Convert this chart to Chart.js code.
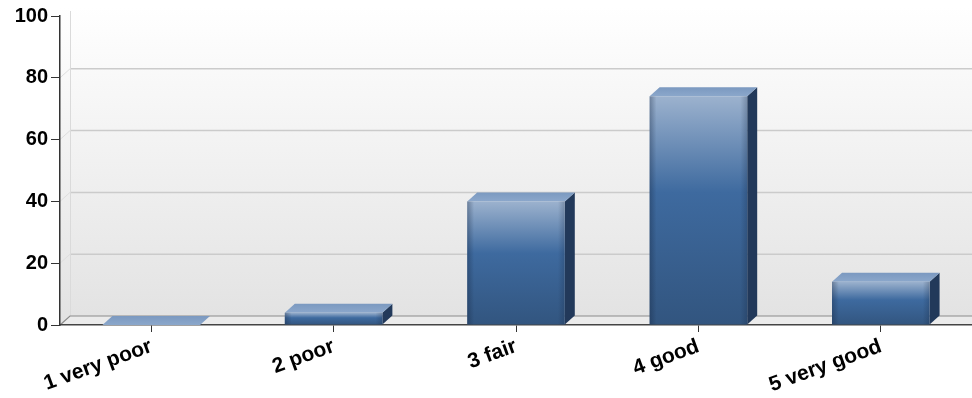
<!DOCTYPE html>
<html>
<head>
<meta charset="utf-8">
<script src="https://cdn.jsdelivr.net/npm/chart.js@4/dist/chart.umd.min.js"></script>
<style>
  html, body { margin: 0; padding: 0; background: #fff; }
  #wrap { width: 972px; height: 398px; }
</style>
</head>
<body>
<div id="wrap"><canvas id="ratingChart" width="972" height="398"></canvas></div>
<script>
// datos del grafico
const categories = ['1 very poor', '2 poor', '3 fair', '4 good', '5 very good'];
const values = [0, 4, 40, 74, 14];
const yTicks = [0, 20, 40, 60, 80, 100];

// desplazamiento de la profundidad 3D
const DX = 10;
const DY = -9;
const FONT = "'Liberation Sans', Arial, sans-serif";

// pared del fondo, lineas de la rejilla y suelo
const wallPlugin = {
    id: 'wall3d',
    beforeDraw(chart) {
        const { ctx, chartArea: a, scales: { y } } = chart;
        const y0 = y.getPixelForValue(yTicks[0]);
        const yTop = y.getPixelForValue(yTicks[yTicks.length - 1]);
        ctx.save();
        const g = ctx.createLinearGradient(0, yTop + DY, 0, y0);
        g.addColorStop(0, '#ffffff');
        g.addColorStop(1, '#e2e2e2');
        ctx.fillStyle = g;
        ctx.fillRect(a.left, yTop + DY, a.right - a.left, y0 - yTop - DY);

        // rejilla en la pared del fondo (sin la linea del maximo)
        yTicks.forEach(v => {
            if (v === yTicks[0] || v === yTicks[yTicks.length - 1]) return;
            const py = y.getPixelForValue(v);
            ctx.strokeStyle = '#cbcbcb';
            ctx.lineWidth = 1.5;
            ctx.beginPath();
            ctx.moveTo(a.left + DX, py + DY);
            ctx.lineTo(a.right, py + DY);
            ctx.stroke();
            ctx.strokeStyle = '#dedede';
            ctx.lineWidth = 1;
            ctx.beginPath();
            ctx.moveTo(a.left, py);
            ctx.lineTo(a.left + DX, py + DY);
            ctx.stroke();
        });

        // borde izquierdo de la pared
        ctx.strokeStyle = '#dadada';
        ctx.lineWidth = 1;
        ctx.beginPath();
        ctx.moveTo(a.left + DX + 0.5, yTop + DY + 4);
        ctx.lineTo(a.left + DX + 0.5, y0 + DY);
        ctx.stroke();

        // suelo
        ctx.fillStyle = '#ebebeb';
        ctx.beginPath();
        ctx.moveTo(a.left, y0);
        ctx.lineTo(a.left + DX, y0 + DY);
        ctx.lineTo(a.right, y0 + DY);
        ctx.lineTo(a.right, y0);
        ctx.closePath();
        ctx.fill();
        ctx.strokeStyle = '#8c8c8c';
        ctx.lineWidth = 1.2;
        ctx.beginPath();
        ctx.moveTo(a.left, y0);
        ctx.lineTo(a.left + DX, y0 + DY);
        ctx.lineTo(a.right, y0 + DY);
        ctx.stroke();
        ctx.restore();
    }
};

// caras superior y lateral de cada barra
const barsPlugin = {
    id: 'bars3d',
    beforeDatasetsDraw(chart) {
        const { ctx } = chart;
        const meta = chart.getDatasetMeta(0);
        ctx.save();
        meta.data.forEach(bar => {
            const p = bar.getProps(['x', 'y', 'base', 'width'], true);
            const left = p.x - p.width / 2;
            const right = p.x + p.width / 2;
            const top = Math.min(p.y, p.base);
            const base = Math.max(p.y, p.base);

            // lateral
            if (base - top > 0.5) {
                ctx.fillStyle = '#22395a';
                ctx.beginPath();
                ctx.moveTo(right, top);
                ctx.lineTo(right + DX, top + DY);
                ctx.lineTo(right + DX, base + DY);
                ctx.lineTo(right, base);
                ctx.closePath();
                ctx.fill();
            }

            // superior
            const tg = ctx.createLinearGradient(0, top + DY, 0, top);
            tg.addColorStop(0, '#7b99c0');
            tg.addColorStop(1, '#8ba7cb');
            ctx.fillStyle = tg;
            ctx.beginPath();
            ctx.moveTo(left, top);
            ctx.lineTo(left + DX, top + DY);
            ctx.lineTo(right + DX, top + DY);
            ctx.lineTo(right, top);
            ctx.closePath();
            ctx.fill();
        });
        ctx.restore();
    },
    afterDatasetsDraw(chart) {
        // sombreado suave en los bordes de la cara frontal
        const { ctx } = chart;
        const meta = chart.getDatasetMeta(0);
        ctx.save();
        meta.data.forEach(bar => {
            const p = bar.getProps(['x', 'y', 'base', 'width'], true);
            const h = p.base - p.y;
            if (h < 1) return;
            const left = p.x - p.width / 2;
            const hg = ctx.createLinearGradient(left, 0, left + p.width, 0);
            hg.addColorStop(0, 'rgba(20,35,60,0.35)');
            hg.addColorStop(0.07, 'rgba(20,35,60,0)');
            hg.addColorStop(0.93, 'rgba(20,35,60,0)');
            hg.addColorStop(1, 'rgba(20,35,60,0.25)');
            ctx.fillStyle = hg;
            ctx.fillRect(left, p.y, p.width, h);
        });
        ctx.restore();
    }
};

function frontGradient(c) {
    const chart = c.chart;
    const y = chart.scales.y;
    if (!y || c.raw === undefined) return '#3d6a9e';
    const top = y.getPixelForValue(c.raw);
    const base = y.getPixelForValue(0);
    if (!isFinite(top) || base - top < 1) return '#3d6a9e';
    const g = chart.ctx.createLinearGradient(0, top, 0, base);
    g.addColorStop(0, '#9cb2ce');
    g.addColorStop(0.42, '#3e6a9f');
    g.addColorStop(1, '#32557f');
    return g;
}

document.addEventListener('DOMContentLoaded', () => {
    const canvas = document.getElementById('ratingChart');
    new Chart(canvas.getContext('2d'), {
        type: 'bar',
        data: {
            labels: categories,
            datasets: [{
                data: values,
                backgroundColor: frontGradient,
                borderWidth: 0,
                categoryPercentage: 1,
                barPercentage: 0.535
            }]
        },
        options: {
            responsive: false,
            animation: false,
            layout: { padding: { top: 16, right: 0, left: 0, bottom: 0 } },
            plugins: {
                legend: { display: false },
                tooltip: { enabled: false }
            },
            scales: {
                x: {
                    offset: true,
                    grid: {
                        offset: false,
                        drawOnChartArea: false,
                        drawTicks: true,
                        tickLength: 7,
                        color: '#333'
                    },
                    border: { display: true, color: '#444', width: 1.5 },
                    ticks: {
                        color: '#000',
                        font: { family: FONT, weight: 'bold', size: 21 },
                        minRotation: 20,
                        maxRotation: 20,
                        padding: 2
                    },
                    afterFit(scale) { scale.height = 73; }
                },
                y: {
                    min: yTicks[0],
                    max: yTicks[yTicks.length - 1],
                    afterBuildTicks(scale) { scale.ticks = yTicks.map(v => ({ value: v })); },
                    grid: {
                        drawOnChartArea: false,
                        drawTicks: true,
                        tickLength: 9,
                        color: '#333'
                    },
                    border: { display: true, color: '#333', width: 1.5 },
                    ticks: {
                        color: '#000',
                        font: { family: FONT, weight: 'bold', size: 20 },
                        padding: 3
                    },
                    afterFit(scale) { scale.width = 60; }
                }
            }
        },
        plugins: [wallPlugin, barsPlugin]
    });
});
</script>
</body>
</html>
